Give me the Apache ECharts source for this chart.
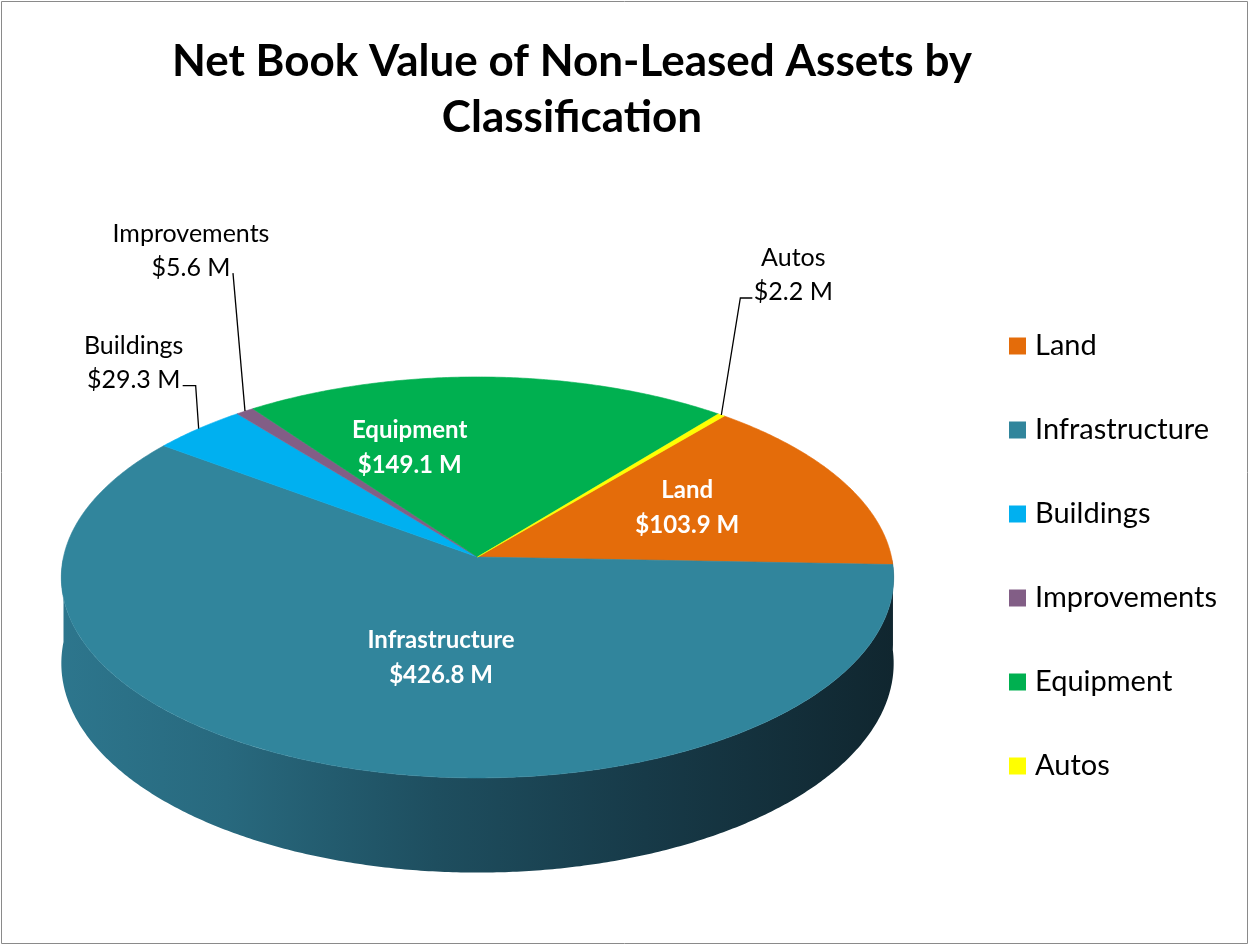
<!DOCTYPE html>
<html>
<head>
<meta charset="utf-8">
<script src="https://cdn.jsdelivr.net/npm/echarts@6/dist/echarts.min.js"></script>
<style>
  html, body { margin: 0; padding: 0; background: #fff; }
  #chart { width: 1250px; height: 946px; }
</style>
</head>
<body>
<div id="chart"></div>
<script>
// data
const categories = ['Land', 'Infrastructure', 'Buildings', 'Improvements', 'Equipment', 'Autos'];
const values = [103.9, 426.8, 29.3, 5.6, 149.1, 2.2];
const colors = ['#e46c0a', '#31859c', '#00b0f0', '#825e86', '#00b050', '#ffff00'];
const valueLabels = values.map(v => '$' + v.toFixed(1) + ' M');

// 3d pie look (first slice angle is clockwise from 12 o'clock)
const FIRST_ANGLE = 40;
const CX = 477.5, CY = 557, RX = 414, RY = 198.4, P = 0.102, DEPTH = 85;
const FONT = 'Lato, "Open Sans", sans-serif';

const total = values.reduce((a, b) => a + b, 0);
const startAngles = [];
let acc = FIRST_ANGLE;
values.forEach(v => { startAngles.push(acc); acc += v / total * 360; });

// where the labels sit
const insidePlace = {
  Land: { shift: -2.4, r: 0.58 },
  Infrastructure: { shift: -9.5, r: 0.49 },
  Equipment: { shift: -18, r: 0.61 }
};
const calloutPlace = {
  Buildings: { path: [[-3, -43], [-16, -43]], text: [-65, -66] },
  Improvements: { path: [[-12, -138]], text: [-54, -160] },
  Autos: { path: [[19, -117], [31, -117]], text: [72, -140] }
};

function proj(deg, r, h) {
  const t = deg * Math.PI / 180;
  const X = r * Math.sin(t), Z = r * Math.cos(t);
  const s = 1 / (1 + P * Z);
  return [CX + RX * X * s, CY - RY * Z * s + DEPTH * h * s];
}

function arc(a0, a1, r, h) {
  const pts = [];
  const n = Math.max(2, Math.ceil(Math.abs(a1 - a0) / 0.5));
  for (let k = 0; k <= n; k++) pts.push(proj(a0 + (a1 - a0) * k / n, r, h));
  return pts;
}

const wallFill = new echarts.graphic.LinearGradient(60, 0, 895, 0, [
  { offset: 0, color: '#2d768d' },
  { offset: 0.2, color: '#28697e' },
  { offset: 0.45, color: '#1e4e5f' },
  { offset: 0.7, color: '#173a48' },
  { offset: 1, color: '#10262f' }
], true);

function renderSlice(i) {
  return function (params, api) {
    const a0 = startAngles[i];
    const a1 = a0 + api.value(0) / total * 360;
    const color = api.visual('color');
    const children = [];

    // side wall, only the near half shows
    const w0 = Math.max(a0, 90), w1 = Math.min(a1, 270);
    if (w1 > w0) {
      children.push({
        type: 'polygon',
        shape: { points: arc(w0, w1, 1, 0).concat(arc(w1, w0, 1, 1)) },
        style: { fill: wallFill }
      });
    }

    // top face
    children.push({
      type: 'polygon',
      shape: { points: [proj(0, 0, 0)].concat(arc(a0, a1, 1, 0)) },
      style: { fill: color, stroke: color, lineWidth: 0.6 }
    });

    const name = categories[i];
    const mid = (a0 + a1) / 2;
    if (insidePlace[name]) {
      const pl = insidePlace[name];
      const pt = proj(mid + pl.shift, pl.r, 0);
      children.push({
        type: 'text', x: pt[0], y: pt[1],
        style: {
          text: name + '\n' + valueLabels[i], fill: '#fff',
          fontFamily: FONT, fontWeight: 'bold', fontSize: 24, lineHeight: 35,
          align: 'center', verticalAlign: 'middle'
        }
      });
    } else if (calloutPlace[name]) {
      const pl = calloutPlace[name];
      const anchor = proj(mid, 1, 0);
      const pts = [anchor].concat(pl.path.map(d => [anchor[0] + d[0], anchor[1] + d[1]]));
      children.push({
        type: 'polyline', shape: { points: pts },
        style: { stroke: '#000', lineWidth: 1.3, fill: null }
      });
      children.push({
        type: 'text', x: anchor[0] + pl.text[0], y: anchor[1] + pl.text[1],
        style: {
          text: name + '\n' + valueLabels[i], fill: '#000',
          fontFamily: FONT, fontSize: 25, lineHeight: 34,
          align: 'center', verticalAlign: 'middle'
        }
      });
    }
    return { type: 'group', children: children };
  };
}

const chart = echarts.init(document.getElementById('chart'));

chart.setOption({
  animation: false,
  color: colors,
  title: {
    text: 'Net Book Value of Non-Leased Assets by\nClassification',
    left: 567,
    top: 29,
    textAlign: 'center',
    textStyle: {
      fontFamily: FONT, fontWeight: 'bold', fontSize: 44, lineHeight: 56, color: '#000'
    }
  },
  legend: {
    orient: 'vertical',
    left: 1004,
    top: 326,
    icon: 'rect',
    itemWidth: 17,
    itemHeight: 17,
    itemGap: 54,
    textStyle: {
      fontFamily: FONT, fontSize: 29, lineHeight: 30, color: '#000', padding: [0, 0, 0, 4]
    },
    data: categories
  },
  graphic: [{
    type: 'rect',
    shape: { x: 1.5, y: 1.5, width: 1246, height: 942 },
    style: { fill: null, stroke: '#8a8a8a', lineWidth: 1 },
    silent: true
  }],
  series: categories.map((name, i) => ({
    name: name,
    type: 'custom',
    coordinateSystem: 'none',
    itemStyle: { color: colors[i] },
    renderItem: renderSlice(i),
    data: [[values[i]]]
  }))
});
</script>
</body>
</html>
